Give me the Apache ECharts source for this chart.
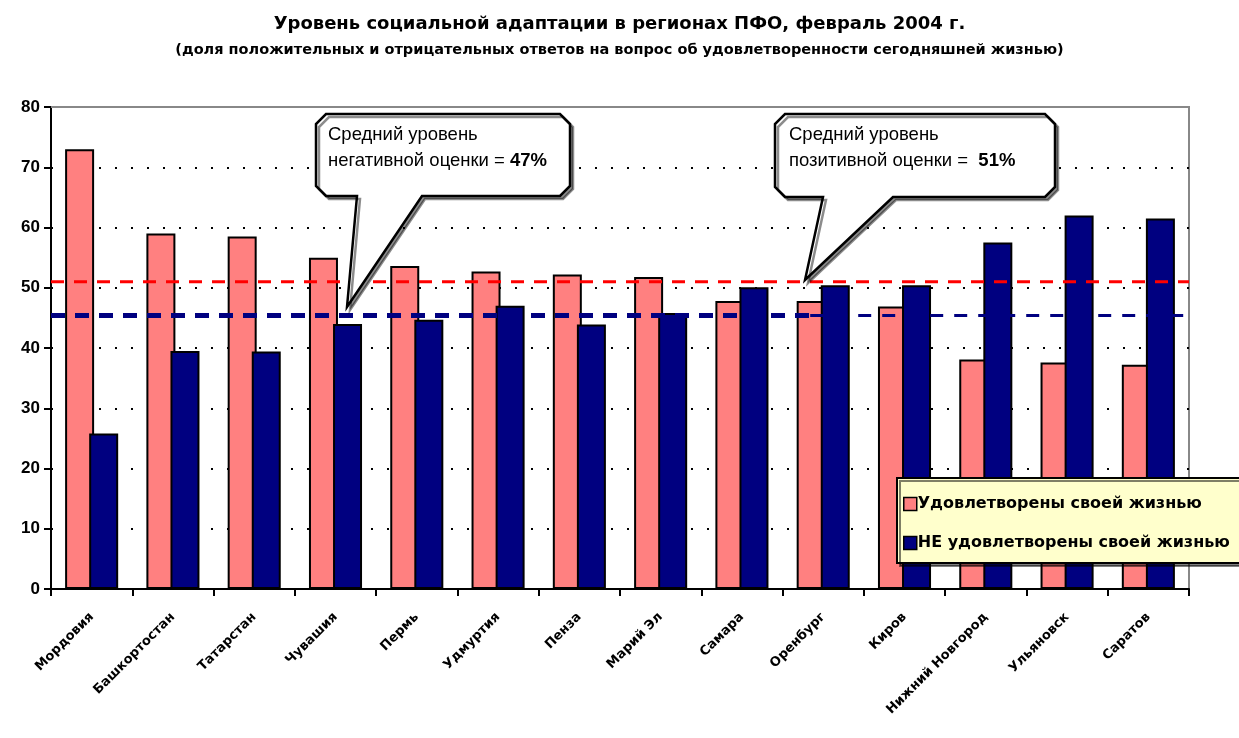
<!DOCTYPE html>
<html><head><meta charset="utf-8">
<script src="https://cdn.jsdelivr.net/npm/echarts@6/dist/echarts.min.js"></script>
<style>html,body{margin:0;padding:0;background:#fff}#c{width:1239px;height:738px}</style>
</head><body><div id="c"></div>
<script>
const categories = ['Мордовия','Башкортостан','Татарстан','Чувашия','Пермь','Удмуртия','Пенза','Марий Эл','Самара','Оренбург','Киров','Нижний Новгород','Ульяновск','Саратов'];
const satisfied = [73, 59, 58.5, 55, 53.6, 52.7, 52.2, 51.8, 47.8, 47.8, 46.9, 38.1, 37.6, 37.2];
const notSatisfied = [25.8, 39.5, 39.4, 44, 44.7, 47, 43.9, 45.8, 50.1, 50.4, 50.4, 57.5, 62, 61.5];
const avgPositive = 51;
const avgNegativeLine = 45.4;
const yTicks = [0, 80, 10];
const seriesNames = ['Удовлетворены своей жизнью', 'НЕ удовлетворены своей жизнью'];

const chart = echarts.init(document.getElementById('c'));
const F = '"Liberation Sans", Arial, sans-serif';
const FD = '"DejaVu Sans", "Liberation Sans", sans-serif';
const nCat = categories.length;

function callout(L, T, R, B, x1, x2, tx, ty) {
  const c = 10;
  return {
    type: 'polygon', z: 100,
    shape: { points: [[L + c, T], [R - c, T], [R, T + c], [R, B - c], [R - c, B], [x2, B], [tx, ty], [x1, B], [L + c, B], [L, B - c], [L, T + c]] },
    style: { fill: '#fff', stroke: '#000', lineWidth: 2.5, shadowColor: 'rgba(0,0,0,0.45)', shadowOffsetX: 3, shadowOffsetY: 3, shadowBlur: 0 }
  };
}
function calloutText(x, y, line2, pct) {
  return {
    type: 'text', z: 101, left: x, top: y,
    style: {
      text: '{n|Средний уровень}\n{n|' + line2 + '}{b|' + pct + '}',
      rich: {
        n: { fontFamily: F, fontSize: 18.5, fill: '#000', lineHeight: 26 },
        b: { fontFamily: F, fontSize: 18.5, fontWeight: 'bold', fill: '#000', lineHeight: 26 }
      }
    }
  };
}

chart.setOption({
  animation: false,
  backgroundColor: '#fff',
  title: [
    { text: 'Уровень социальной адаптации в регионах ПФО, февраль 2004 г.', left: 'center', top: 10,
      textStyle: { fontFamily: FD, fontSize: 18, fontWeight: 'bold', color: '#000' } },
    { text: '(доля положительных и отрицательных ответов на вопрос об удовлетворенности сегодняшней жизнью)', left: 'center', top: 38,
      textStyle: { fontFamily: FD, fontSize: 14.5, fontWeight: 'bold', color: '#000' } }
  ],
  grid: { left: 51, right: 50, top: 107, bottom: 149, show: true, borderColor: '#888', borderWidth: 2, backgroundColor: 'transparent' },
  legend: {
    orient: 'vertical', left: 897, top: 478,
    data: seriesNames,
    backgroundColor: '#FFFFCC', borderColor: '#000', borderWidth: 2,
    padding: [18, 30, 12, 6], itemGap: 23, itemWidth: 13, itemHeight: 13,
    shadowColor: 'rgba(0,0,0,0.5)', shadowOffsetX: 3, shadowOffsetY: 3,
    icon: 'rect',
    itemStyle: { borderColor: '#000', borderWidth: 1.5 },
    textStyle: { fontFamily: FD, fontSize: 16, fontWeight: 'bold', color: '#000', padding: [0, 0, 0, -4] }
  },
  xAxis: [
    { type: 'category', data: categories,
      axisLine: { lineStyle: { color: '#000', width: 2 } },
      axisTick: { show: true, length: 7, lineStyle: { color: '#000', width: 2 } },
      axisLabel: { rotate: 45, fontFamily: FD, fontSize: 13, fontWeight: 'bold', color: '#000', margin: 26 } },
    { type: 'value', min: 0, max: nCat, show: false }
  ],
  yAxis: {
    type: 'value', min: yTicks[0], max: yTicks[1], interval: yTicks[2],
    axisLine: { show: true, lineStyle: { color: '#000', width: 2 } },
    axisTick: { show: true, length: 7, lineStyle: { color: '#000', width: 2 } },
    axisLabel: { fontFamily: F, fontSize: 17, fontWeight: 'bold', color: '#000', margin: 11 },
    splitLine: { show: true, lineStyle: { color: '#000', width: 2, type: [2, 14] } }
  },
  series: [
    { name: seriesNames[0], type: 'bar', data: satisfied, barWidth: 29, barGap: '-17%',
      itemStyle: { color: '#FF8080', borderColor: '#000', borderWidth: 2 } },
    { name: seriesNames[1], type: 'bar', data: notSatisfied, barWidth: 29,
      itemStyle: { color: '#000080', borderColor: '#000', borderWidth: 2 } },
    { type: 'line', xAxisIndex: 1, z: 20, symbol: 'none', silent: true,
      data: [[0, avgPositive], [nCat, avgPositive]],
      lineStyle: { color: '#FF0000', width: 3, type: [13, 10] } },
    { type: 'line', xAxisIndex: 1, z: 20, symbol: 'none', silent: true,
      data: [[0, avgNegativeLine], [9.34, avgNegativeLine]],
      lineStyle: { color: '#000080', width: 5, type: [14, 10] } },
    { type: 'line', xAxisIndex: 1, z: 20, symbol: 'none', silent: true,
      data: [[9.34, avgNegativeLine], [nCat, avgNegativeLine]],
      lineStyle: { color: '#000080', width: 3, type: [13, 11] } },
    { type: 'line', xAxisIndex: 1, z: 3, symbol: 'none', silent: true,
      data: [[0, yTicks[1]], [nCat, yTicks[1]]],
      lineStyle: { color: '#888', width: 2, type: 'solid' } }
  ],
  graphic: [
    callout(316, 114, 570, 196, 357, 422, 347, 307),
    calloutText(328, 125, 'негативной оценки = ', '47%'),
    callout(775, 114, 1055, 197, 823, 893, 805, 280),
    calloutText(789, 125, 'позитивной оценки =  ', '51%')
  ]
});
</script></body></html>
